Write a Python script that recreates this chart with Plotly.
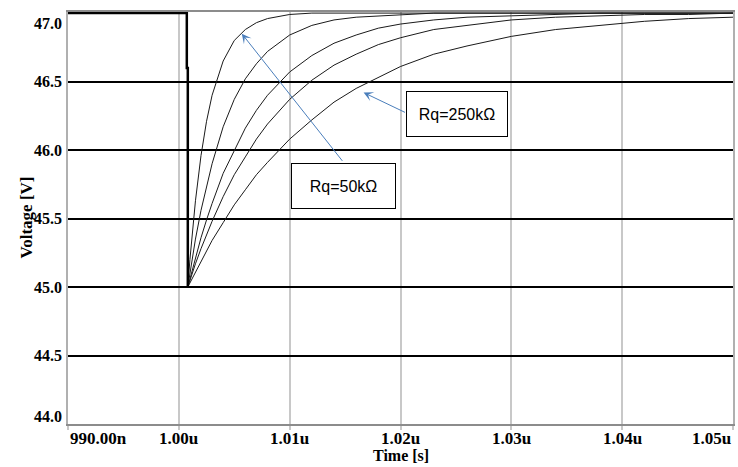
import plotly.graph_objects as go

# ---- data (time in ns, voltage in V) ----
time_ns = [1000.81, 1001.0, 1001.5, 1002.0, 1002.5, 1003.0, 1004.0, 1005.0, 1006.0, 1007.0,
           1008.0, 1010.0, 1012.0, 1014.0, 1016.0, 1018.0, 1020.0, 1023.0, 1026.0, 1030.0,
           1034.0, 1038.0, 1042.0, 1046.0, 1050.0]

v_rq50 = [45.00, 45.20, 45.63, 45.96, 46.21, 46.40, 46.65, 46.80, 46.88, 46.93,
          46.96, 46.99, 47.00, 47.00, 47.00, 47.00, 47.00, 47.00, 47.00, 47.00,
          47.00, 47.00, 47.00, 47.00, 47.00]
v_rq100 = [45.00, 45.10, 45.35, 45.56, 45.74, 45.90, 46.17, 46.37, 46.52, 46.63,
           46.72, 46.84, 46.91, 46.95, 46.97, 46.98, 46.99, 47.00, 47.00, 47.00,
           47.00, 47.00, 47.00, 47.00, 47.00]
v_rq150 = [45.00, 45.06, 45.22, 45.36, 45.49, 45.61, 45.83, 46.00, 46.16, 46.29,
           46.40, 46.57, 46.69, 46.78, 46.84, 46.89, 46.92, 46.95, 46.97, 46.98,
           46.99, 47.00, 47.00, 47.00, 47.00]
v_rq200 = [45.00, 45.05, 45.17, 45.28, 45.38, 45.48, 45.66, 45.82, 45.95, 46.08,
           46.19, 46.37, 46.51, 46.62, 46.70, 46.77, 46.82, 46.88, 46.91, 46.95,
           46.97, 46.98, 46.99, 46.99, 47.00]
v_rq250 = [45.00, 45.03, 45.11, 45.19, 45.27, 45.34, 45.47, 45.60, 45.71, 45.82,
           45.91, 46.08, 46.22, 46.35, 46.45, 46.53, 46.61, 46.70, 46.76, 46.83,
           46.88, 46.91, 46.94, 46.96, 46.97]

step_t = [990.0, 1000.72, 1000.72, 1000.81, 1000.81]
step_v = [47.0, 47.0, 46.6, 46.6, 45.0]

x_tick_vals = [990, 1000, 1010, 1020, 1030, 1040, 1050]
x_tick_text = ["990.00n", "1.00u", "1.01u", "1.02u", "1.03u", "1.04u", "1.05u"]
y_tick_vals = [44.0, 44.5, 45.0, 45.5, 46.0, 46.5, 47.0]
y_tick_text = ["44.0", "44.5", "45.0", "45.5", "46.0", "46.5", "47.0"]

label_50 = "Rq=50kΩ"
label_250 = "Rq=250kΩ"

# ---- figure ----
fig = go.Figure()

for vals in [v_rq50, v_rq100, v_rq150, v_rq200, v_rq250]:
    fig.add_trace(go.Scatter(x=time_ns, y=vals, mode="lines",
                             line=dict(color="#1a1a1a", width=1), showlegend=False,
                             hoverinfo="skip"))

fig.add_trace(go.Scatter(x=step_t, y=step_v, mode="lines",
                         line=dict(color="black", width=2.5), showlegend=False,
                         hoverinfo="skip"))

x_tick_font = dict(family="Liberation Serif", size=17, color="black")
y_tick_font = dict(family="Liberation Serif", size=16, color="black")
annotations = []
for i, (v, t) in enumerate(zip(x_tick_vals, x_tick_text)):
    anchor = "left" if i == 0 else ("right" if i == len(x_tick_vals) - 1 else "center")
    annotations.append(dict(x=v, xref="x", y=0, yref="paper", yanchor="top", yshift=-3,
                            xanchor=anchor, text="<b>%s</b>" % t, showarrow=False,
                            font=x_tick_font))
for v, t in zip(y_tick_vals, y_tick_text):
    ys = -10 if v == 47.0 else (8 if v == 44.0 else 0)
    annotations.append(dict(x=0, xref="paper", y=v, yref="y", xanchor="right", xshift=-4,
                            yshift=ys, text="<b>%s</b>" % t, showarrow=False, font=y_tick_font))

annotations.append(dict(x=0, xref="paper", y=0.5, yref="paper", xshift=-54, textangle=-90,
                        text="<b>Voltage [V]</b>", showarrow=False,
                        font=dict(family="Liberation Serif", size=17, color="black")))
annotations.append(dict(x=0.5, xref="paper", y=0, yref="paper", yanchor="top", yshift=-21,
                        text="<b>Time [s]</b>", showarrow=False,
                        font=dict(family="Liberation Serif", size=16, color="black")))

# arrows
arrow_color = "#4a7ebb"
annotations.append(dict(x=1005.68, y=46.85, ax=1014.86, ay=45.91, xref="x", yref="y",
                        axref="x", ayref="y", text="", showarrow=True, arrowhead=3,
                        arrowsize=1.6, arrowwidth=1, arrowcolor=arrow_color))
annotations.append(dict(x=1016.67, y=46.42, ax=1020.54, ay=46.27, xref="x", yref="y",
                        axref="x", ayref="y", text="", showarrow=True, arrowhead=3,
                        arrowsize=1.6, arrowwidth=1, arrowcolor=arrow_color))

# text boxes
box_font = dict(family="Liberation Sans", size=16, color="black")
annotations.append(dict(x=1014.82, y=45.74, xref="x", yref="y", text=label_50,
                        showarrow=False, bordercolor="black", borderwidth=1, borderpad=0,
                        bgcolor="white", width=103, height=44, font=box_font))
annotations.append(dict(x=1025.14, y=46.26, xref="x", yref="y", text=label_250,
                        showarrow=False, bordercolor="black", borderwidth=1, borderpad=0,
                        bgcolor="white", width=100, height=44, font=box_font))

fig.update_layout(
    width=738, height=467,
    margin=dict(l=68, r=3, t=12, b=43),
    paper_bgcolor="white", plot_bgcolor="white",
    annotations=annotations,
    xaxis=dict(range=[990, 1050], tickvals=x_tick_vals, showticklabels=False,
               showgrid=True, gridcolor="#c8c8c8", gridwidth=2, zeroline=False,
               ticks="outside", ticklen=4, tickcolor="#c8c8c8", tickwidth=2,
               showline=True, linecolor="#8c8c8c", linewidth=2, mirror=True,
               layer="below traces"),
    yaxis=dict(range=[44, 47.008], tickvals=y_tick_vals[:-1], showticklabels=False,
               showgrid=True, gridcolor="black", gridwidth=2, zeroline=False,
               showline=True, linecolor="#b0b0b0", linewidth=2, mirror=True,
               layer="below traces"),
)

fig.write_html(
    "out.html",
    config={"displayModeBar": False},
    post_script="document.body.style.margin='0';document.body.style.padding='0';"
                "document.body.style.overflow='hidden';",
)
